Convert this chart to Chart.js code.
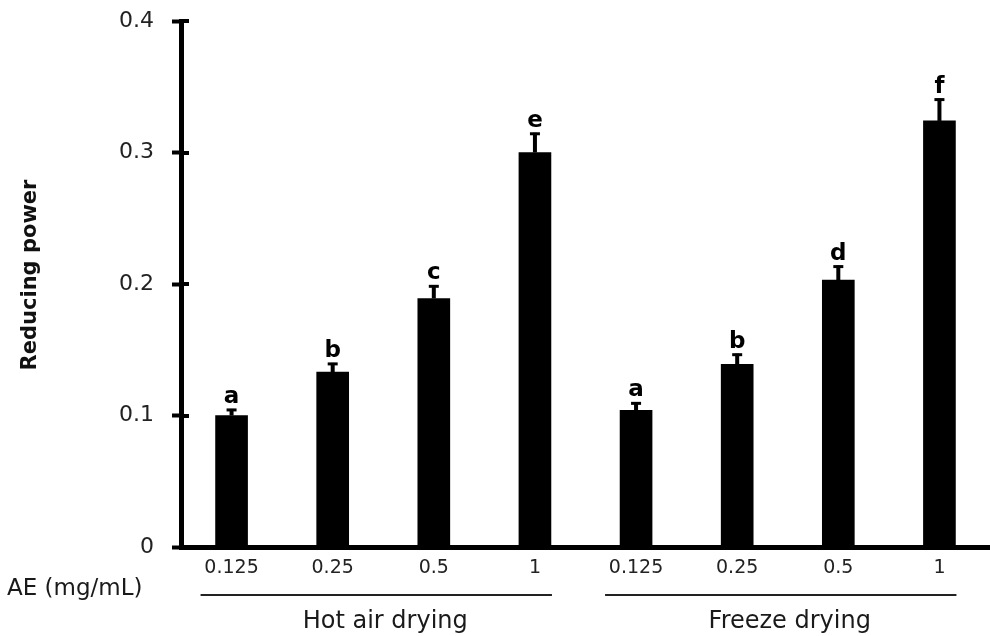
<!DOCTYPE html>
<html>
<head>
<title>Reducing power</title>
<script src="https://cdn.jsdelivr.net/npm/chart.js@4.4.1/dist/chart.umd.min.js"></script>
<style>
  body { margin: 0; background: #fff; }
  #wrap { width: 990px; height: 636px; position: relative; }
</style>
</head>
<body>
<div id="wrap"><canvas id="stage"></canvas></div>
<script>
// concentrations of AE (mg/mL), same for both drying methods
var concentrations = ['0.125', '0.25', '0.5', '1'];
var groupNames = ['Hot air drying', 'Freeze drying'];

var hotAirValues = [0.100, 0.133, 0.189, 0.300];
var hotAirErrors = [0.005, 0.007, 0.010, 0.015];
var hotAirLetters = ['a', 'b', 'c', 'e'];

var freezeValues = [0.104, 0.139, 0.203, 0.324];
var freezeErrors = [0.006, 0.008, 0.011, 0.017];
var freezeLetters = ['a', 'b', 'd', 'f'];

var yTicks = [0, 0.1, 0.2, 0.3, 0.4];

var labels = concentrations.concat(concentrations);
var values = hotAirValues.concat(freezeValues);
var errors = hotAirErrors.concat(freezeErrors);
var letters = hotAirLetters.concat(freezeLetters);

var FONT = "'DejaVu Sans', 'Liberation Sans', Arial, sans-serif";

// error bars, significance letters, inner half of y ticks, captions
var extras = {
    id: 'extras',
    afterDatasetsDraw: function (chart) {
        var ctx = chart.ctx;
        var y = chart.scales.y;
        var meta = chart.getDatasetMeta(0);
        ctx.save();
        ctx.fillStyle = '#000';
        ctx.strokeStyle = '#000';
        for (var i = 0; i < values.length; i++) {
            var bar = meta.data[i];
            var yTop = y.getPixelForValue(values[i] + errors[i]);
            ctx.lineWidth = 4;
            ctx.beginPath();
            ctx.moveTo(bar.x, bar.y);
            ctx.lineTo(bar.x, yTop);
            ctx.stroke();
            ctx.lineWidth = 3;
            ctx.beginPath();
            ctx.moveTo(bar.x - 5, yTop + 1);
            ctx.lineTo(bar.x + 5, yTop + 1);
            ctx.stroke();
            ctx.font = 'bold 23px ' + FONT;
            ctx.textAlign = 'center';
            ctx.textBaseline = 'alphabetic';
            ctx.fillText(letters[i], bar.x, yTop - 6);
        }
        ctx.restore();
    },
    afterDraw: function (chart) {
        var ctx = chart.ctx;
        var x = chart.scales.x;
        var y = chart.scales.y;
        var left = chart.chartArea.left;
        ctx.save();
        // ticks cross the axis
        ctx.strokeStyle = '#000';
        ctx.lineWidth = 4;
        yTicks.forEach(function (v) {
            var py = Math.round(y.getPixelForValue(v));
            ctx.beginPath();
            ctx.moveTo(left, py);
            ctx.lineTo(left + 8, py);
            ctx.stroke();
        });
        // y axis title
        ctx.save();
        ctx.translate(31, 275);
        ctx.rotate(-Math.PI / 2);
        ctx.fillStyle = '#111';
        ctx.font = 'bold 21px ' + FONT;
        ctx.textAlign = 'center';
        ctx.textBaseline = 'middle';
        ctx.fillText('Reducing power', 0, 0);
        ctx.restore();

        ctx.fillStyle = '#1a1a1a';
        ctx.font = '23px ' + FONT;
        ctx.textAlign = 'left';
        ctx.textBaseline = 'middle';
        ctx.fillText('AE (mg/mL)', 7, 589);
        // group underlines and names
        ctx.strokeStyle = '#222';
        ctx.lineWidth = 2;
        ctx.font = '24px ' + FONT;
        ctx.textAlign = 'center';
        for (var g = 0; g < groupNames.length; g++) {
            var first = x.getPixelForValue(g * 4);
            var last = x.getPixelForValue(g * 4 + 3);
            ctx.beginPath();
            ctx.moveTo(first - 31, 595);
            ctx.lineTo(last + 17, 595);
            ctx.stroke();
            ctx.fillText(groupNames[g], (first + last) / 2 + 2, 622);
        }
        ctx.restore();
    }
};

var chart = new Chart(document.getElementById('stage'), {
    type: 'bar',
    data: {
        labels: labels,
        datasets: [{
            data: values,
            backgroundColor: '#000',
            borderWidth: 0,
            barThickness: 32
        }]
    },
    options: {
        responsive: true,
        maintainAspectRatio: false,
        animation: false,
        layout: { padding: { top: 21, right: 0, left: 0, bottom: 0 } },
        plugins: { legend: { display: false }, tooltip: { enabled: false } },
        scales: {
            x: {
                afterFit: function (s) {
                    s.height = 89;
                    s.paddingLeft = 0;
                    s.paddingRight = 0;
                },
                grid: { display: false, drawTicks: false },
                border: { display: true, color: '#000', width: 5 },
                ticks: { color: '#222', padding: 10, font: { family: FONT, size: 19 } }
            },
            y: {
                min: 0,
                max: 0.4,
                afterFit: function (s) {
                    s.width = 181;
                    s.paddingTop = 0;
                    s.paddingBottom = 0;
                },
                afterBuildTicks: function (s) {
                    s.ticks = yTicks.map(function (v) { return { value: v }; });
                },
                grid: {
                    drawOnChartArea: false,
                    drawTicks: true,
                    tickLength: 9,
                    tickWidth: 4,
                    tickColor: '#000'
                },
                border: { display: true, color: '#000', width: 5 },
                ticks: {
                    color: '#222',
                    padding: 18,
                    font: { family: FONT, size: 22 },
                    callback: function (v) { return String(+v.toFixed(1)); }
                }
            }
        }
    },
    plugins: [extras]
});
</script>
</body>
</html>
